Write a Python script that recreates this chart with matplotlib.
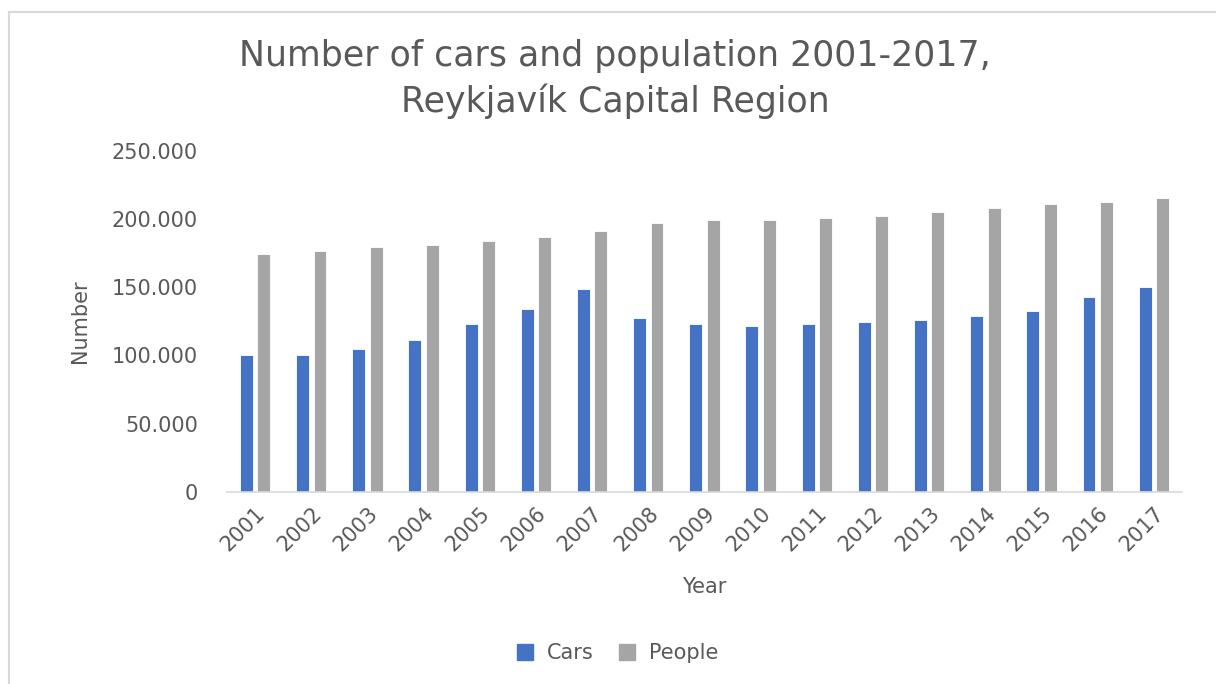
import numpy as np
import matplotlib.pyplot as plt
from matplotlib.lines import Line2D
from matplotlib.ticker import FuncFormatter

annees = [str(a) for a in range(2001, 2018)]
voitures = [100000, 100000, 104500, 111500, 123000, 134300, 148600, 127200, 123000,
            121500, 123000, 124500, 125700, 128600, 132800, 143000, 150100]
habitants = [174200, 176900, 179900, 181100, 184200, 187000, 191400, 196900, 199600,
             199600, 201100, 202600, 205500, 208200, 211100, 212600, 215500]

BLEU = "#4472C4"
GRIS = "#A5A5A5"
TEXTE = "#595959"


def milliers(v, pos):
    return "{:,.0f}".format(v).replace(",", ".")


fig = plt.figure(figsize=(12.16, 6.84), dpi=100)
ax = fig.add_axes([0.1867, 0.2811, 0.7853, 0.4981])

x = np.arange(len(annees))
largeur = 0.23
ax.bar(x - 0.155, voitures, largeur, color=BLEU, edgecolor="white", linewidth=0.6, label="Cars")
ax.bar(x + 0.155, habitants, largeur, color=GRIS, edgecolor="white", linewidth=0.6, label="People")

ax.set_xlim(-0.5, len(annees) - 0.5)
ax.set_ylim(0, 250000)
ax.set_yticks(range(0, 250001, 50000))
ax.yaxis.set_major_formatter(FuncFormatter(milliers))
ax.set_xticks(x)
ax.set_xticklabels(annees, rotation=45, ha="right", rotation_mode="anchor")

for cote in ["top", "right", "left"]:
    ax.spines[cote].set_visible(False)
ax.spines["bottom"].set_color("#D9D9D9")
ax.spines["bottom"].set_linewidth(1.2)
ax.tick_params(axis="both", length=0, colors=TEXTE, labelsize=15)
ax.tick_params(axis="y", pad=21)
ax.tick_params(axis="x", pad=8)

ax.set_xlabel("Year", fontsize=15, color=TEXTE, labelpad=16)
ax.set_ylabel("Number", fontsize=15, color=TEXTE, labelpad=16)

fig.text(0.506, 0.918, "Number of cars and population 2001-2017,", ha="center", va="center",
         fontsize=25, color=TEXTE)
fig.text(0.506, 0.852, "Reykjavík Capital Region", ha="center", va="center",
         fontsize=25, color=TEXTE)

poignees = [Line2D([], [], marker="s", linestyle="", color=BLEU, markersize=11),
            Line2D([], [], marker="s", linestyle="", color=GRIS, markersize=11)]
fig.legend(poignees, ["Cars", "People"], loc="center", bbox_to_anchor=(0.503, 0.045),
           ncol=2, frameon=False, fontsize=15, labelcolor=TEXTE,
           handletextpad=0.05, columnspacing=0.6)

# cadre du graphique
fig.add_artist(Line2D([9 / 1216, 1], [1 - 12 / 684, 1 - 12 / 684], transform=fig.transFigure,
                      color="#D9D9D9", linewidth=1.5))
fig.add_artist(Line2D([9 / 1216, 9 / 1216], [0, 1 - 12 / 684], transform=fig.transFigure,
                      color="#D9D9D9", linewidth=1.5))

fig.savefig("out.png", dpi=100)
